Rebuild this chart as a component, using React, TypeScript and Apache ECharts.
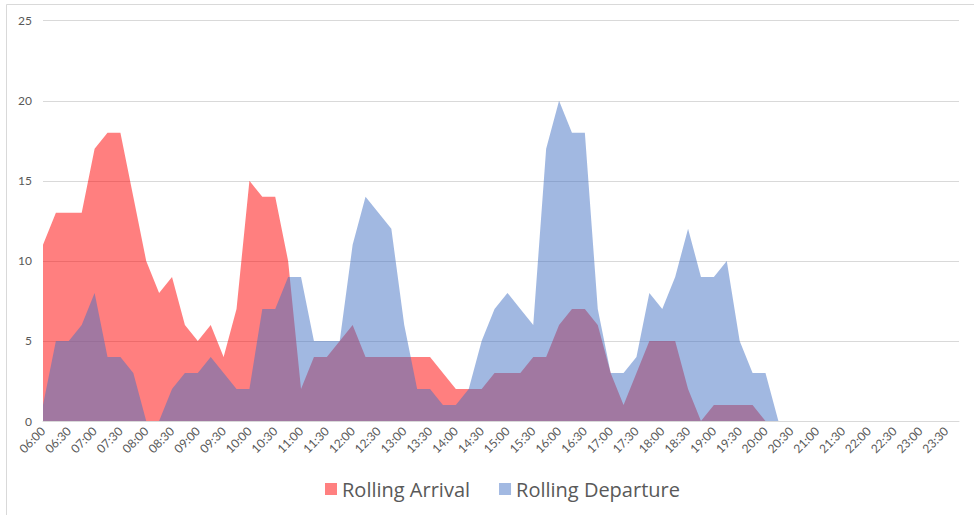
import React, { useEffect, useRef } from "react";
import * as echarts from "echarts";

const times = [
  "06:00", "06:15", "06:30", "06:45", "07:00", "07:15", "07:30", "07:45",
  "08:00", "08:15", "08:30", "08:45", "09:00", "09:15", "09:30", "09:45",
  "10:00", "10:15", "10:30", "10:45", "11:00", "11:15", "11:30", "11:45",
  "12:00", "12:15", "12:30", "12:45", "13:00", "13:15", "13:30", "13:45",
  "14:00", "14:15", "14:30", "14:45", "15:00", "15:15", "15:30", "15:45",
  "16:00", "16:15", "16:30", "16:45", "17:00", "17:15", "17:30", "17:45",
  "18:00", "18:15", "18:30", "18:45", "19:00", "19:15", "19:30", "19:45",
  "20:00", "20:15", "20:30", "20:45", "21:00", "21:15", "21:30", "21:45",
  "22:00", "22:15", "22:30", "22:45", "23:00", "23:15", "23:30", "23:45",
];

const rollingArrival = [
  11, 13, 13, 13, 17, 18, 18, 14,
  10, 8, 9, 6, 5, 6, 4, 7,
  15, 14, 14, 10, 2, 4, 4, 5,
  6, 4, 4, 4, 4, 4, 4, 3,
  2, 2, 2, 3, 3, 3, 4, 4,
  6, 7, 7, 6, 3, 1, 3, 5,
  5, 5, 2, 0, 1, 1, 1, 1,
  0, 0, 0, 0, 0, 0, 0, 0,
  0, 0, 0, 0, 0, 0, 0, 0,
];

const rollingDeparture = [
  1, 5, 5, 6, 8, 4, 4, 3,
  0, 0, 2, 3, 3, 4, 3, 2,
  2, 7, 7, 9, 9, 5, 5, 5,
  11, 14, 13, 12, 6, 2, 2, 1,
  1, 2, 5, 7, 8, 7, 6, 17,
  20, 18, 18, 7, 3, 3, 4, 8,
  7, 9, 12, 9, 9, 10, 5, 3,
  3, 0, 0, 0, 0, 0, 0, 0,
  0, 0, 0, 0, 0, 0, 0, 0,
];

const seriesNames = ["Rolling Arrival", "Rolling Departure"];

export default function App() {
  const ref = useRef<HTMLDivElement>(null);
  useEffect(() => {
    document.body.style.margin = "0";
    const chart = echarts.init(ref.current!, null, { renderer: "svg" });
    const font = "Lato, 'Open Sans', sans-serif";
    const legendFont = "'Open Sans', Lato, sans-serif";
    chart.setOption({
      animation: false,
      textStyle: { fontFamily: font },
      grid: { left: 43, right: 15, top: 20.7, bottom: 94, containLabel: false },
      legend: {
        data: seriesNames,
        left: 320,
        top: 474,
        icon: "rect",
        itemWidth: 12,
        itemHeight: 12,
        itemGap: 29,
        textStyle: {
          color: "#595959",
          fontSize: 20,
          fontFamily: legendFont,
        },
      },
      graphic: [
        {
          type: "rect",
          shape: { x: 6.5, y: 4.5, width: 1000, height: 600 },
          style: { fill: "none", stroke: "#D9D9D9", lineWidth: 1 },
          silent: true,
        },
      ],
      xAxis: {
        type: "category",
        data: times,
        boundaryGap: false,
        axisLine: { lineStyle: { color: "#D9D9D9", width: 1 } },
        axisTick: { show: false },
        axisLabel: {
          interval: 1,
          rotate: 45,
          margin: 8,
          color: "#595959",
          fontSize: 12,
          fontFamily: font,
        },
        splitLine: { show: false },
      },
      yAxis: {
        type: "value",
        min: 0,
        max: 25,
        interval: 5,
        axisLine: { show: false },
        axisTick: { show: false },
        axisLabel: { color: "#595959", fontSize: 12, margin: 11, fontFamily: font },
        splitLine: { lineStyle: { color: "#D9D9D9", width: 1 } },
      },
      series: [
        {
          name: seriesNames[0],
          type: "line",
          data: rollingArrival,
          symbol: "none",
          showSymbol: false,
          lineStyle: { width: 0 },
          itemStyle: { color: "#FF8080" },
          areaStyle: { color: "rgba(255,0,0,0.5)", opacity: 1 },
          silent: true,
        },
        {
          name: seriesNames[1],
          type: "line",
          data: rollingDeparture,
          symbol: "none",
          showSymbol: false,
          lineStyle: { width: 0 },
          itemStyle: { color: "#A2B9E2" },
          areaStyle: { color: "rgba(68,114,196,0.5)", opacity: 1 },
          silent: true,
        },
      ],
    });
    return () => chart.dispose();
  }, []);
  return <div ref={ref} style={{ width: 974, height: 515 }} />;
}
